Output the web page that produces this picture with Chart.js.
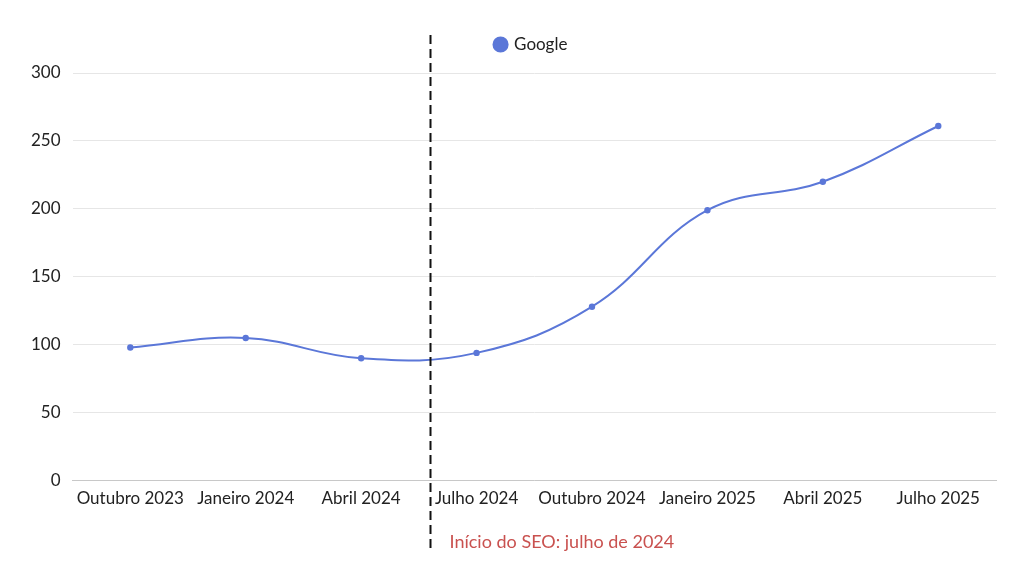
<!DOCTYPE html>
<html>
<head>
<meta charset="utf-8">
<script src="https://cdn.jsdelivr.net/npm/chart.js@4/dist/chart.umd.min.js"></script>
<style>
  html, body { margin: 0; padding: 0; background: #fff; }
  #wrap { width: 1024px; height: 576px; }
</style>
</head>
<body>
<div id="wrap"><canvas id="seoChart"></canvas></div>
<script>
const months = ["Outubro 2023", "Janeiro 2024", "Abril 2024", "Julho 2024", "Outubro 2024", "Janeiro 2025", "Abril 2025", "Julho 2025"];
const googleValues = [98, 105, 90, 94, 128, 199, 220, 261];
const yTicks = [0, 50, 100, 150, 200, 250, 300];
const seoStartIndex = 2.6;
const seoLabel = "Início do SEO: julho de 2024";

// dashed marker + label for the SEO start
const seoMarker = {
  id: "seoMarker",
  afterLayout(chart) {
    // legend sits a bit right of centre and higher up in the original
    chart.legend.left += 24;
    chart.legend.right += 24;
    chart.legend.top -= 10;
    chart.legend.bottom -= 10;
  },
  afterDraw(chart) {
    const { ctx, chartArea, scales } = chart;
    const x = Math.round(scales.x.getPixelForValue(seoStartIndex)) + 0.5;
    ctx.save();
    ctx.strokeStyle = "#111";
    ctx.lineWidth = 2;
    ctx.setLineDash([9, 5]);
    ctx.beginPath();
    ctx.moveTo(x, chartArea.top - 38);
    ctx.lineTo(x, chartArea.bottom + 72);
    ctx.stroke();
    ctx.setLineDash([]);
    ctx.fillStyle = "#c9514f";
    ctx.font = "18px Lato";
    ctx.textBaseline = "middle";
    ctx.fillText(seoLabel, x + 19, chartArea.bottom + 62);
    ctx.restore();
  }
};

new Chart(document.getElementById("seoChart"), {
  type: "line",
  data: {
    labels: months,
    datasets: [
      {
        label: "Google",
        data: googleValues,
        borderColor: "#5b77d8",
        backgroundColor: "#4f74f0",
        pointBackgroundColor: "#5b77d8",
        borderWidth: 2,
        pointRadius: 2.2,
        tension: 0.4,
      },
    ],
  },
  options: {
    responsive: true,
    maintainAspectRatio: false,
    animation: false,
    layout: { padding: { top: 16, right: 28, bottom: 67, left: 19 } },
    plugins: {
      legend: {
        labels: {
          usePointStyle: true,
          pointStyle: "circle",
          boxWidth: 10,
          boxHeight: 10,
          padding: 30,
          color: "#222",
          font: { family: "Lato", size: 17 },
        },
      },
      tooltip: { enabled: false },
    },
    scales: {
      x: {
        offset: true,
        grid: { display: false },
        border: { color: "#c8c8c8" },
        ticks: { color: "#222", padding: 0, font: { family: "Lato", size: 17 }, maxRotation: 0, autoSkip: false },
      },
      y: {
        min: 0,
        max: 300,
        afterBuildTicks(axis) {
          axis.ticks = yTicks.map(v => ({ value: v }));
        },
        grid: { color: "#e6e6e6", drawTicks: false },
        border: { display: false },
        ticks: { color: "#222", padding: 12, font: { family: "Lato", size: 17 } },
      },
    },
  },
  plugins: [seoMarker],
});
</script>
</body>
</html>
